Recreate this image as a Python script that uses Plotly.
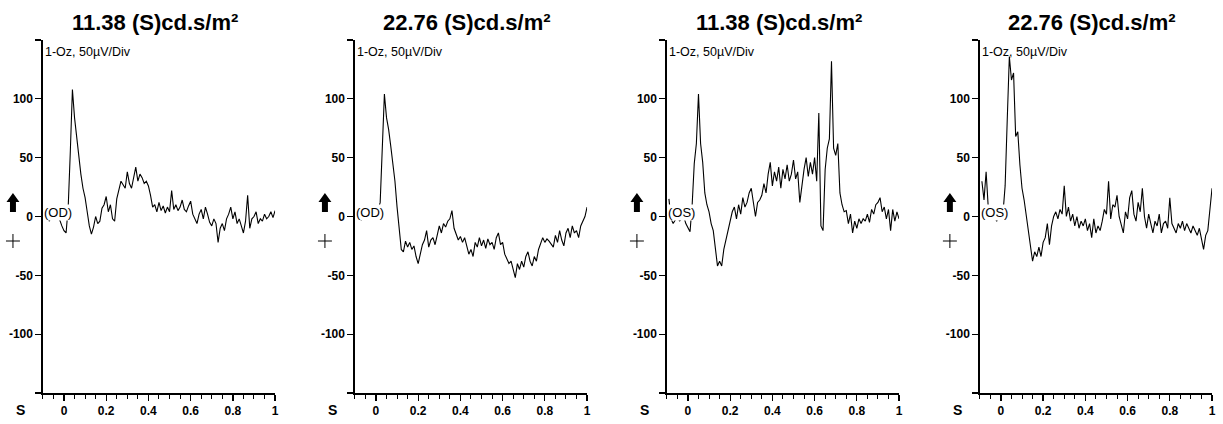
import numpy as np
import plotly.graph_objects as go

W, H = 1223, 424

# ---------------- data ----------------
# sampling grid (s)
time_s = np.round(np.arange(-0.09, 1.0001, 0.01), 2)

titles = ["11.38 (S)cd.s/m²", "22.76 (S)cd.s/m²", "11.38 (S)cd.s/m²", "22.76 (S)cd.s/m²"]
eyes = ["(OD)", "(OD)", "(OS)", "(OS)"]
channel_label = "1-Oz, 50µV/Div"
x_tickvals = [0, 0.2, 0.4, 0.6, 0.8, 1]
x_ticktext = ["0", "0.2", "0.4", "0.6", "0.8", "1"]
y_tickvals = [-150, -100, -50, 0, 50, 100, 150]
y_ticktext = ["", "-100", "-50", "0", "50", "100", ""]
x_unit = "S"

# amplitudes (µV), one value per time sample
od_1138 = [
    -2, 3, -4, 0, -1, -2, -1, -3, -8, -12,
    -14, 8, 55, 108, 84, 67, 52, 36, 24, 16,
    4, -8, -15, -9, 0, -6, -4, 7, 10, 17,
    4, 10, -2, -4, 15, 22, 30, 27, 24, 38,
    28, 24, 34, 42, 30, 36, 33, 28, 30, 26,
    18, 8, 10, 4, 12, 5, 9, 3, 8, 4,
    22, 6, 10, 5, 8, 14, 6, 4, 9, 13,
    2, -2, -6, 2, 6, -2, 8, 2, -5, -8,
    -2, -6, -22, -10, -6, -12, -2, 2, 8, -2,
    4, -6, -2, -8, -14, -4, 18, -10, -2, 0,
    4, -6, -2, -4, 2, -2, 0, 4, -1, 5,
]
od_2276 = [
    -2, 0, -3, -1, 1, 0, 2, 1, 3, 2,
    5, 12, 62, 104, 84, 74, 60, 45, 30, 8,
    -8, -28, -30, -21, -26, -22, -28, -25, -34, -40,
    -32, -24, -20, -12, -26, -20, -18, -24, -16, -8,
    -14, -6, -9, -4, -2, 5, -10, -16, -20, -17,
    -22, -18, -26, -32, -28, -34, -22, -26, -18, -25,
    -20, -27, -19, -24, -22, -28, -18, -14, -24, -22,
    -32, -36, -40, -38, -44, -52, -40, -45, -38, -43,
    -34, -30, -38, -42, -34, -38, -28, -22, -18, -22,
    -19, -21, -24, -26, -16, -22, -12, -20, -25, -14,
    -10, -18, -8, -14, -12, -18, -8, -4, 0, 8,
]
os_1138 = [
    15, -2, -6, -3, 2, -4, -2, 0, -6, -10,
    -13, 10, 45, 62, 104, 62, 46, 20, 10, 4,
    -6, -12, -30, -42, -38, -42, -28, -20, -12, -4,
    4, 8, -2, 10, 2, 16, 8, 12, 20, 24,
    10, 0, 12, 14, 18, 28, 20, 36, 46, 26,
    38, 30, 42, 24, 40, 32, 44, 30, 36, 48,
    32, 38, 12, 28, 40, 50, 34, 46, 36, 50,
    30, 88, -8, -12, 40, 58, 66, 132, 58, 52,
    62, 20, 10, 4, 5, -6, 2, -14, -4, -10,
    -2, -6, -2, -4, 2, -5, 6, 2, 10, 12,
    16, 4, 8, -2, 6, -12, 6, -4, 4, -2,
]
os_2276 = [
    30, 14, 38, 8, 2, -2, 0, -4, 1, -2,
    3, 26, 82, 136, 116, 122, 68, 72, 44, 24,
    14, 0, -12, -28, -38, -30, -34, -26, -34, -22,
    -18, -6, -24, -8, 0, 4, -2, 6, 2, 26,
    0, 8, -4, 2, -8, 0, -10, -4, -8, -2,
    -12, -6, -18, -2, -14, -8, -12, -4, 6, 2,
    30, -2, 10, 8, 18, 0, -6, -14, 4, -2,
    16, 22, 2, -4, 12, 4, 24, 0, -10, 2,
    -6, -14, -4, -8, 2, -14, -6, -4, -10, 16,
    -6, -10, -14, -6, -10, -4, -12, -6, -10, -14,
    -8, -12, -16, -10, -20, -28, -16, -12, 6, 24,
]
series = [od_1138, od_2276, os_1138, os_2276]

# ---------------- layout helpers ----------------
FONT = "Liberation Sans, Arial, sans-serif"
panel_left_px = [43, 356, 669, 983]
panel_w_px = 233
plot_top_px, plot_bot_px = 40, 393


def px(x):
    return x / W


def py(y):
    return 1 - y / H


fig = go.Figure()
layout = dict(
    width=W, height=H, margin=dict(l=0, r=0, t=0, b=0),
    paper_bgcolor="white", plot_bgcolor="white", showlegend=False,
    font=dict(family=FONT, color="black"),
)
annotations = []
shapes = []

for i, (vals, title, eye) in enumerate(zip(series, titles, eyes)):
    n = "" if i == 0 else str(i + 1)
    xa, ya = "x" + n, "y" + n
    L = panel_left_px[i]
    fig.add_trace(go.Scatter(x=time_s, y=vals, mode="lines",
                             line=dict(color="black", width=1.1),
                             xaxis=xa, yaxis=ya, hoverinfo="skip"))
    layout["xaxis" + n] = dict(
        domain=[px(L), px(L + panel_w_px)], anchor=ya, range=[-0.1, 1.0],
        showgrid=False, zeroline=False, showline=True, linecolor="black", linewidth=1.5,
        ticks="outside", ticklen=6, tickwidth=1.3, tickcolor="black",
        tickvals=x_tickvals, ticktext=x_ticktext,
        tickfont=dict(family=FONT, size=12, color="black", weight="bold"),
        minor=dict(ticks="outside", ticklen=4, tickwidth=1, tickcolor="black",
                   tick0=0, dtick=0.05, showgrid=False),
    )
    layout["yaxis" + n] = dict(
        domain=[py(plot_bot_px), py(plot_top_px)], anchor=xa, range=[-150, 150],
        showgrid=False, zeroline=False, showline=True, linecolor="black", linewidth=1.5,
        ticks="outside", ticklen=6, tickwidth=1.3, tickcolor="black",
        tickvals=y_tickvals, ticktext=y_ticktext,
        tickfont=dict(family=FONT, size=12, color="black", weight="bold"),
    )
    # title
    annotations.append(dict(
        text=title, xref="paper", yref="paper", x=px(L + 113), y=py(23),
        xanchor="center", yanchor="middle", showarrow=False,
        font=dict(family=FONT, size=22, color="black", weight="bold"),
    ))
    # channel label
    annotations.append(dict(
        text=channel_label, xref=xa, yref=ya, x=-0.1, y=140,
        xanchor="left", yanchor="middle", showarrow=False,
        font=dict(family=FONT, size=12.5, color="black"),
    ))
    # eye label
    annotations.append(dict(
        text=eye, xref=xa, yref=ya, x=-0.1, y=3,
        xanchor="left", yanchor="middle", showarrow=False, bgcolor="white",
        borderpad=0, font=dict(family=FONT, size=13, color="black"),
    ))
    # unit label
    annotations.append(dict(
        text=x_unit, xref="paper", yref="paper", x=px(L - 22), y=py(410),
        xanchor="center", yanchor="middle", showarrow=False,
        font=dict(family=FONT, size=14, color="black", weight="bold"),
    ))
    # polarity arrow
    xc = L - 30
    pts = [(xc, 193), (xc + 6.5, 202), (xc + 3, 202), (xc + 3, 212),
           (xc - 3, 212), (xc - 3, 202), (xc - 6.5, 202)]
    path = "M " + " L ".join(f"{px(a):.5f},{py(b):.5f}" for a, b in pts) + " Z"
    shapes.append(dict(type="path", xref="paper", yref="paper", path=path,
                       fillcolor="black", line=dict(color="black", width=0)))
    # crosshair
    shapes.append(dict(type="line", xref="paper", yref="paper",
                       x0=px(xc - 7), x1=px(xc + 7), y0=py(241), y1=py(241),
                       line=dict(color="black", width=1)))
    shapes.append(dict(type="line", xref="paper", yref="paper",
                       x0=px(xc), x1=px(xc), y0=py(234), y1=py(248),
                       line=dict(color="black", width=1)))

layout["annotations"] = annotations
layout["shapes"] = shapes
fig.update_layout(**layout)
fig.write_html(
    "out.html",
    config={"displayModeBar": False, "staticPlot": True},
    post_script="document.body.style.margin='0px';document.body.style.overflow='hidden';",
)
